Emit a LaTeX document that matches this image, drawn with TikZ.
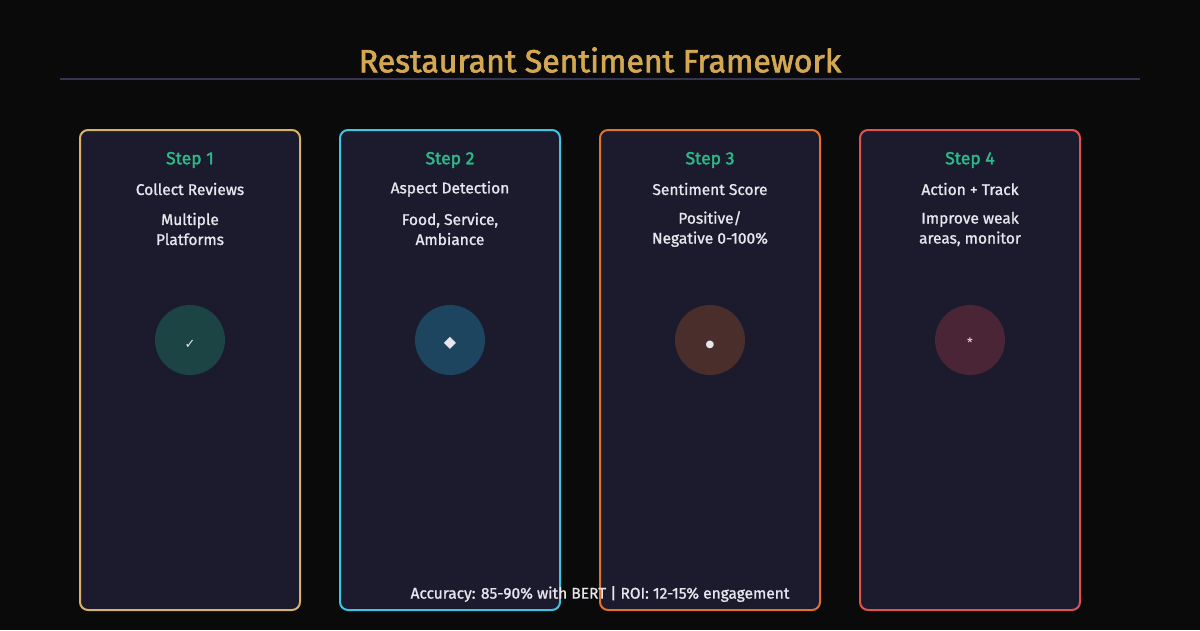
\documentclass[tikz,border=0pt]{standalone}
\usepackage{fontspec}
\setmainfont{Fira Sans}
\newfontfamily\medfont[FakeBold=1.2]{Fira Sans}
\newfontfamily\semifont[FakeBold=2]{Fira Sans}
\newfontfamily\symfont{DejaVu Sans}
\definecolor{bg}{HTML}{0A0A0A}
\definecolor{cardfill}{HTML}{1C1B2E}
\definecolor{gold}{HTML}{D4A853}
\definecolor{rule}{HTML}{36354F}
\definecolor{stepgreen}{HTML}{2DB88A}
\definecolor{txt}{HTML}{E6E6EC}
\definecolor{bA}{HTML}{D8B26C}
\definecolor{bB}{HTML}{3CC6E2}
\definecolor{bC}{HTML}{E2712F}
\definecolor{bD}{HTML}{E05252}
\definecolor{cA}{HTML}{1D4444}
\definecolor{cB}{HTML}{1E4560}
\definecolor{cC}{HTML}{4A2E2C}
\definecolor{cD}{HTML}{4A2535}
\tikzset{
  card/.style={draw=#1, line width=2pt, fill=cardfill, rounded corners=8pt},
  steplbl/.style={text=stepgreen, font=\semifont\fontsize{17.5}{20}\selectfont},
  sublbl/.style={text=txt, font=\medfont\fontsize{15.5}{17}\selectfont},
  desclbl/.style={text=txt, font=\medfont\fontsize{15.5}{20}\selectfont, align=center},
  iconcirc/.style={circle, fill=#1, minimum size=70pt, inner sep=0pt},
}
\begin{document}
\begin{tikzpicture}[x=1pt,y=-1pt]
\fill[bg] (0,0) rectangle (1200,630);
\useasboundingbox (0,0) rectangle (1200,630);
\node[text=gold, font=\semifont\fontsize{32}{34}\selectfont] (title) at (600,60) {Restaurant Sentiment Framework};
\coordinate (rl) at (60,79);
\coordinate (rr) at (1140,79);
\draw[rule, line width=1.5pt] (rl) -- (rr);

% cards
\draw[card=bA] (80,130) rectangle (300,610);
\draw[card=bB] (340,130) rectangle (560,610);
\draw[card=bC] (600,130) rectangle (820,610);
\draw[card=bD] (860,130) rectangle (1080,610);

% card 1
\node[steplbl] (s1) at (190,160) {Step 1};
\node[sublbl] (t1) at (190,189) {Collect Reviews};
\node[desclbl] (d1) at (190,229) {Multiple\\Platforms};
\node[iconcirc=cA] (i1) at (190,340) {};
\node[text=txt, font=\symfont\fontsize{13}{14}\selectfont] at (190,344) {✓};

% card 2
\node[steplbl] (s2) at (450,160) {Step 2};
\node[sublbl] (t2) at (450,189) {Aspect Detection};
\node[desclbl] (d2) at (450,229) {Food, Service,\\Ambiance};
\node[iconcirc=cB] (i2) at (450,340) {};
\node[text=txt, font=\symfont\fontsize{16}{16}\selectfont] at (450,343) {◆};

% card 3
\node[steplbl] (s3) at (710,160) {Step 3};
\node[sublbl] (t3) at (710,189) {Sentiment Score};
\node[desclbl] (d3) at (710,229) {Positive/\\Negative 0-100\%};
\node[iconcirc=cC] (i3) at (710,340) {};
\node[text=txt, font=\symfont\fontsize{10}{11}\selectfont] at (710,345) {●};

% card 4
\node[steplbl] (s4) at (970,160) {Step 4};
\node[sublbl] (t4) at (970,189) {Action + Track};
\node[desclbl] (d4) at (970,229) {Improve weak\\areas, monitor};
\node[iconcirc=cD] (i4) at (970,340) {};
\node[text=txt, font=\fontsize{13}{14}\selectfont] at (970,343) {*};

\node[text=txt, font=\medfont\fontsize{15.5}{17}\selectfont] (foot) at (600,594) {Accuracy: 85-90\% with BERT | ROI: 12-15\% engagement};
\end{tikzpicture}
\end{document}
